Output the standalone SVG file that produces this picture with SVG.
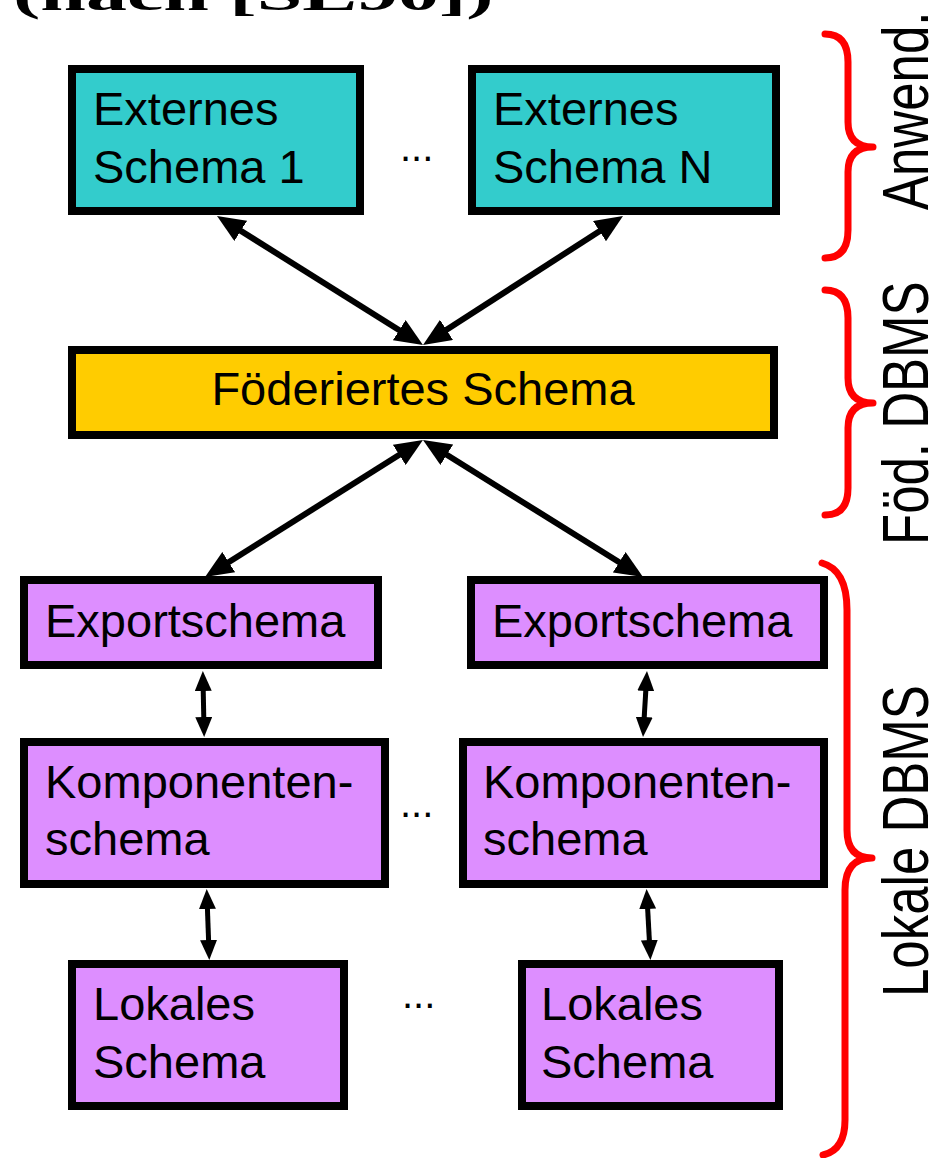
<svg xmlns="http://www.w3.org/2000/svg" width="937" height="1158" viewBox="0 0 937 1158">
<style>
.box{stroke:#000;stroke-width:8}
.ext{fill:#33CCCC}
.fed{fill:#FFCC00}
.loc{fill:#DD8EFF}
.t{font-family:"Liberation Sans",Arial,sans-serif;font-size:47px;fill:#000}
.dots{font-family:"Liberation Sans",Arial,sans-serif;font-size:40px;fill:#000}
.side{font-family:"Liberation Sans",Arial,sans-serif;font-size:51px;fill:#000}
.big{stroke:#000;stroke-width:6;fill:none;marker-start:url(#ahL);marker-end:url(#ahL)}
.small{stroke:#000;stroke-width:5;fill:none;marker-start:url(#ahS);marker-end:url(#ahS)}
.brace{stroke:#FF0000;stroke-width:7;fill:none;stroke-linecap:round;stroke-linejoin:round}
</style>
<defs>
<marker id="ahL" markerUnits="userSpaceOnUse" markerWidth="28" markerHeight="24" refX="18" refY="12" orient="auto-start-reverse"><path d="M0,0 L28,12 L0,24 z" fill="#000"/></marker>
<marker id="ahS" markerUnits="userSpaceOnUse" markerWidth="20" markerHeight="17" refX="12" refY="8.5" orient="auto-start-reverse"><path d="M0,0 L20,8.5 L0,17 z" fill="#000"/></marker>
</defs>
<rect width="937" height="1158" fill="#fff"/>
<text transform="translate(13,10) scale(1,0.55)" font-family="'Liberation Serif','Times New Roman',serif" font-weight="bold" font-size="82">(nach [SL90])</text>

<g id="connectors">
<line class="big" x1="225.5" y1="221.3" x2="414.5" y2="339.7"/>
<line class="big" x1="614.6" y1="221.4" x2="431.4" y2="339.6"/>
<line class="big" x1="414.5" y1="445.3" x2="213.5" y2="571.7"/>
<line class="big" x1="431.5" y1="445.3" x2="634.5" y2="571.7"/>
<line class="small" x1="203" y1="679" x2="204" y2="729"/>
<line class="small" x1="646.5" y1="679" x2="643.5" y2="729"/>
<line class="small" x1="207" y1="897" x2="209" y2="952"/>
<line class="small" x1="647" y1="897" x2="650" y2="952"/>
</g>

<g id="ext1">
<rect class="box ext" x="72" y="69" width="288" height="142"/>
<text class="t" x="93" y="125">Externes</text>
<text class="t" x="93" y="183">Schema 1</text>
</g>
<g id="extN">
<rect class="box ext" x="472" y="69" width="304" height="142"/>
<text class="t" x="493" y="125">Externes</text>
<text class="t" x="493" y="183">Schema N</text>
</g>
<text class="dots" x="400" y="161">...</text>

<g id="fed">
<rect class="box fed" x="72" y="350" width="702" height="85"/>
<text class="t" x="423" y="405" text-anchor="middle">Föderiertes Schema</text>
</g>

<g id="export1">
<rect class="box loc" x="24" y="580" width="354" height="85"/>
<text class="t" x="45" y="637">Exportschema</text>
</g>
<g id="export2">
<rect class="box loc" x="471" y="580" width="353" height="85"/>
<text class="t" x="492" y="637">Exportschema</text>
</g>

<g id="komp1">
<rect class="box loc" x="24" y="742" width="361" height="142"/>
<text class="t" x="45" y="798">Komponenten-</text>
<text class="t" x="45" y="855">schema</text>
</g>
<g id="komp2">
<rect class="box loc" x="463" y="742" width="361" height="142"/>
<text class="t" x="483" y="798">Komponenten-</text>
<text class="t" x="483" y="855">schema</text>
</g>
<text class="dots" x="400" y="817">...</text>

<g id="lokal1">
<rect class="box loc" x="72" y="964" width="272" height="142"/>
<text class="t" x="93" y="1020">Lokales</text>
<text class="t" x="93" y="1078">Schema</text>
</g>
<g id="lokal2">
<rect class="box loc" x="522" y="964" width="257" height="142"/>
<text class="t" x="541" y="1020">Lokales</text>
<text class="t" x="541" y="1078">Schema</text>
</g>
<text class="dots" x="402" y="1008">...</text>

<g id="brace-anwend">
<path class="brace" d="M825,34 Q848,34 848,62 L848,122 Q848,147 873,147 Q848,147 848,172 L848,230 Q848,258 825,258"/>
<text class="side" transform="translate(928,210) rotate(-90) scale(1,1.26)">Anwend.</text>
</g>
<g id="brace-foed">
<path class="brace" d="M825,290 Q848,290 848,318 L848,378 Q848,403 873,403 Q848,403 848,428 L848,488 Q848,515 825,515"/>
<text class="side" transform="translate(928,545) rotate(-90) scale(1,1.26)">Föd. DBMS</text>
</g>
<g id="brace-lokal">
<path class="brace" d="M822,563 Q847,570 847,610 L847,830 Q847,858 872,858 Q845,858 845,890 L845,1120 Q845,1150 823,1155"/>
<text class="side" transform="translate(928,997) rotate(-90) scale(1,1.26)">Lokale DBMS</text>
</g>
</svg>
